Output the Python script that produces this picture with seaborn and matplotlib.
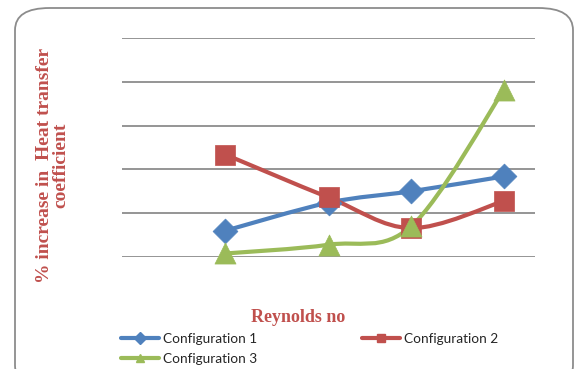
import numpy as np
import pandas as pd
import seaborn as sns
import matplotlib.pyplot as plt
from matplotlib.path import Path
from matplotlib.patches import PathPatch, FancyBboxPatch
from matplotlib.lines import Line2D

# donnees
reynolds = [5000, 10000, 14000, 18500]
config_1 = [3.0, 6.2, 7.5, 9.2]
config_2 = [11.7, 6.8, 3.3, 6.4]
config_3 = [0.4, 1.4, 3.5, 19.1]
series_names = ["Configuration 1", "Configuration 2", "Configuration 3"]
colors = ["#4F81BD", "#C0504D", "#9BBB59"]
markers = ["D", "s", "^"]

data = pd.DataFrame({
    "Re": reynolds * 3,
    "val": config_1 + config_2 + config_3,
    "serie": sum([[n] * len(reynolds) for n in series_names], []),
})

sns.set_theme(style="white")
plt.rcParams["font.family"] = ["Lato", "DejaVu Sans"]

fig = plt.figure(figsize=(5.76, 3.69), dpi=100)
ax = fig.add_axes([122 / 576, 1 - 257 / 369, 413 / 576, 219 / 369])


# ligne lissee facon Excel (bezier catmull-rom)
def smooth_path(x, y):
    pts = np.column_stack([x, y]).astype(float)
    verts = [pts[0]]
    codes = [Path.MOVETO]
    n = len(pts)
    for i in range(n - 1):
        p0 = pts[i - 1] if i > 0 else pts[i]
        p1 = pts[i]
        p2 = pts[i + 1]
        p3 = pts[i + 2] if i + 2 < n else pts[i + 1]
        c1 = p1 + (p2 - p0) / 6
        c2 = p2 - (p3 - p1) / 6
        verts += [c1, c2, p2]
        codes += [Path.CURVE4] * 3
    return Path(verts, codes)


for name, col in zip(series_names, colors):
    sub = data[data["serie"] == name]
    patch = PathPatch(smooth_path(sub["Re"], sub["val"]), fill=False,
                      edgecolor=col, lw=3, transform=ax.transData,
                      clip_on=False, zorder=3)
    ax.add_patch(patch)

sizes = {"Configuration 1": 160, "Configuration 2": 200, "Configuration 3": 230}
for name, col, m in zip(series_names, colors, markers):
    sub = data[data["serie"] == name]
    sns.scatterplot(data=sub, x="Re", y="val", color=col, marker=m,
                    s=sizes[name], edgecolor=col, linewidth=0.5, ax=ax,
                    clip_on=False, zorder=4, legend=False)

ax.set_xlim(0, 20000)
ax.set_ylim(0, 25)
ax.set_yticks(np.arange(0, 26, 5))
ax.yaxis.grid(True, color="#8c8c8c", lw=1.3)
ax.xaxis.grid(False)
ax.set_xticks([])
ax.set_yticklabels([])
ax.tick_params(left=False, bottom=False)
for s in ax.spines.values():
    s.set_visible(False)
ax.set_xlabel("")
ax.set_ylabel("")

fig.text(298 / 576, 1 - 318 / 369, "Reynolds no", color="#C0504D",
         family="Liberation Serif", weight="bold", fontsize=13,
         ha="center", va="center")
fig.text(53 / 576, 1 - 165 / 369, "% increase in  Heat transfer\ncoefficient",
         color="#C0504D", family="Liberation Serif", weight="bold",
         fontsize=14, rotation=90, ha="center", va="center",
         multialignment="center", linespacing=0.95)

handles = [Line2D([], [], color=c, lw=3, marker=m, markersize=6)
           for c, m in zip(colors, markers)]
order = [0, 2, 1]
fig.legend([handles[i] for i in order], [series_names[i] for i in order],
           loc="upper left", bbox_to_anchor=(121 / 576, 1 - 333 / 369),
           ncol=2, frameon=False, fontsize=9.8, handlelength=2.8,
           handletextpad=0.3, columnspacing=7.7, labelspacing=0.6,
           borderpad=0, borderaxespad=0)

frame = FancyBboxPatch((15 / 576, -0.05), 558 / 576, 1 - 8 / 369 + 0.05,
                       boxstyle="round,pad=0,rounding_size=0.06",
                       transform=fig.transFigure, fill=False,
                       edgecolor="#8c8c8c", lw=1.3, clip_on=False)
fig.patches.append(frame)

fig.savefig("out.png", dpi=100)
